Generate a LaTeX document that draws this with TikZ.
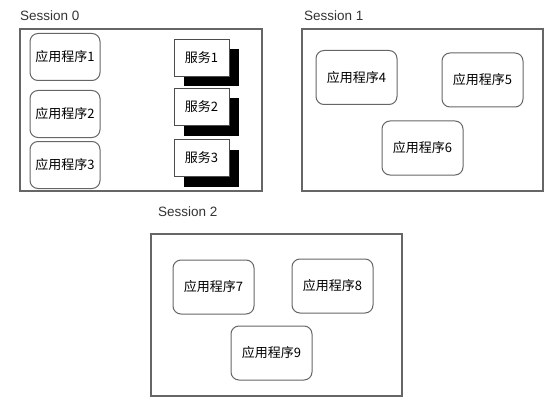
\documentclass[tikz,border=0pt]{standalone}
\usepackage{fontspec}
\setsansfont{Liberation Sans}
\newfontfamily\cjk{Noto Sans CJK SC}
\usepackage{tikz}

\begin{document}
\begin{tikzpicture}[x=1pt, y=-1pt,
  session/.style={draw=black!60, line width=1.1pt, inner sep=0pt},
  app/.style={draw=black!60, line width=1pt, rounded corners=8pt, fill=white,
    inner sep=0pt, minimum width=81pt, minimum height=54pt, font=\cjk\fontsize{13}{13}\selectfont},
  small app/.style={app, minimum width=70pt, minimum height=47pt},
  service/.style={draw=black!70, line width=0.8pt, fill=white, inner sep=0pt,
    minimum width=55pt, minimum height=37pt, font=\cjk\fontsize{13}{13}\selectfont},
  shadow/.style={fill=black, inner sep=0pt, minimum width=55pt, minimum height=37pt},
  label/.style={anchor=west, inner sep=0pt, text=black!80, font=\sffamily\fontsize{13.5}{13.5}\selectfont}]

\useasboundingbox (0,0) rectangle (551,401);

% Session boxes
\node [session, minimum width=242pt, minimum height=162pt] (s0) at (141,110) {};
\node [session, minimum width=241pt, minimum height=162pt] (s1) at (422.5,110) {};
\node [session, minimum width=251pt, minimum height=162pt] (s2) at (276.5,315) {};

\node [label] (l0) at (20,16)  {Session 0};
\node [label] (l1) at (304,16) {Session 1};
\node [label] (l2) at (158,212) {Session 2};

% Session 0
\node [small app] (a1) at (65,57)  {应用程序1};
\node [small app] (a2) at (65,114) {应用程序2};
\node [small app] (a3) at (65,165) {应用程序3};

\node [shadow]  (h1) at (211.5,67.5) {};
\node [service] (v1) at (201.5,57.5) {服务1};
\node [shadow]  (h2) at (211.5,117)  {};
\node [service] (v2) at (201.5,107)  {服务2};
\node [shadow]  (h3) at (211.5,168)  {};
\node [service] (v3) at (201.5,158)  {服务3};

% Session 1
\node [app] (a4) at (356.5,77.5) {应用程序4};
\node [app] (a5) at (482.5,80)   {应用程序5};
\node [app] (a6) at (422.5,148)  {应用程序6};

% Session 2
\node [app] (a7) at (213.5,287) {应用程序7};
\node [app] (a8) at (332.5,286) {应用程序8};
\node [app] (a9) at (271.5,353) {应用程序9};

\end{tikzpicture}
\end{document}
